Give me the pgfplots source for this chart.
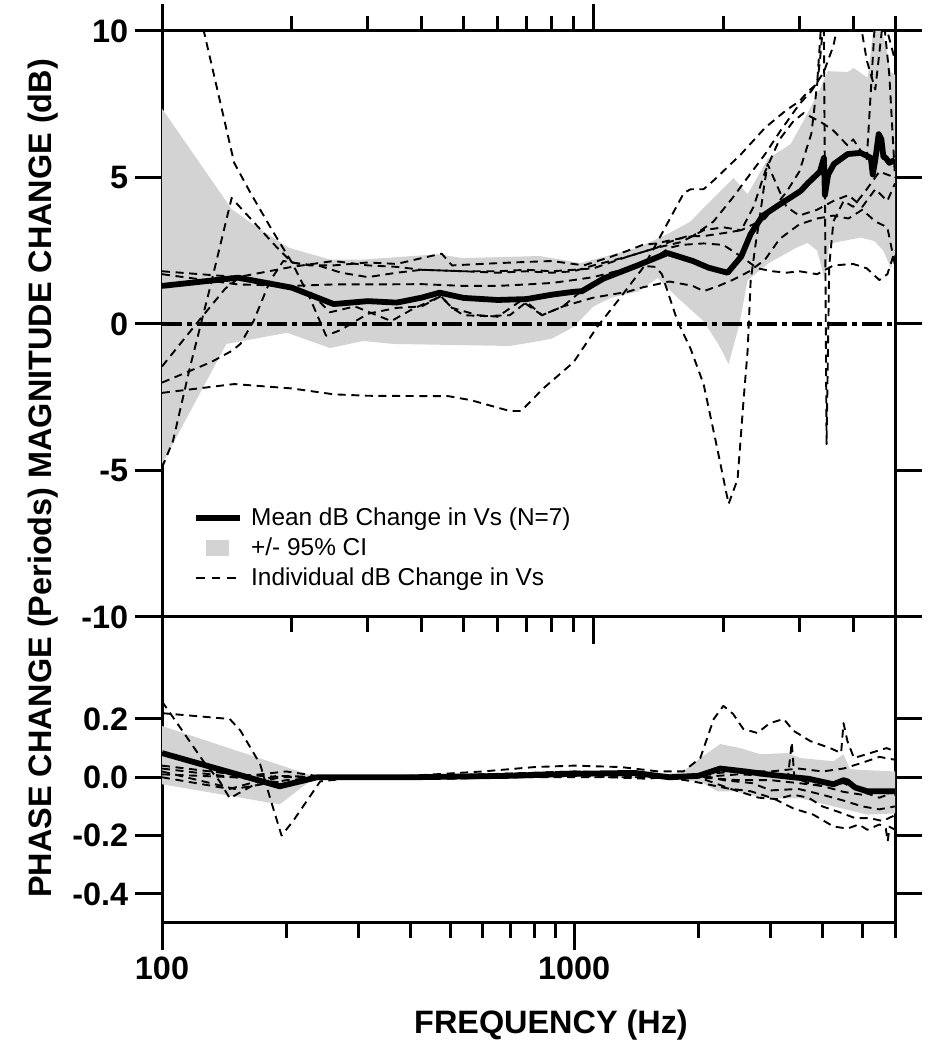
\documentclass[border=0pt]{standalone}
\usepackage{fontspec}
\setmainfont{Liberation Sans}
\usepackage{pgfplots}
\pgfplotsset{compat=1.18}
\definecolor{cigray}{RGB}{211,211,211}
\newcommand\bigbf{\fontsize{16.2}{19}\selectfont\bfseries}
\newcommand\legfont{\fontsize{12.2}{14}\selectfont}
\pgfplotsset{
  panel/.style={
    scale only axis, width=366.5pt, enlargelimits=false,
    axis line style={line width=1.5pt},
    tick style={line width=1.5pt, black},
    tick align=outside,
    major tick length=13.5pt, minor tick length=7.5pt,
    tick label style={font=\bigbf},
    ytick pos=both, yticklabel pos=left,
    xtick={100,1000},
    minor xtick={200,300,400,500,600,700,800,900,2000,3000,4000,5000,6000},
  },
  indiv/.style={black, line width=0.95pt, dash pattern=on 4pt off 2.8pt, line join=round, forget plot},
  meanl/.style={black, line width=2.9pt, line join=round, forget plot},
}
\begin{document}
\begin{tikzpicture}
\useasboundingbox (0,0) rectangle (469.5pt,525pt);
% ---------------- lower panel: phase ----------------
\begin{axis}[xmode=log, panel, at={(81pt,63.5pt)}, anchor=south west, height=153pt,
  xmin=100, xmax=6000, ymin=-0.5, ymax=0.55,
  xtick pos=left, xticklabel pos=left, xticklabels={100,1000},
  ytick={-0.4,-0.2,0,0.2}, yticklabels={-0.4,-0.2,0.0,0.2},
  xlabel={FREQUENCY (Hz)},
  xlabel style={font=\bigbf, at={(axis description cs:0.5307,-0.3595)}, anchor=base},
]
\addplot[fill=cigray, draw=none, forget plot] coordinates {
 (100,0.176)(233,0.004)(400,0.008)(1000,0.02)(1500,0.015)(1700,0.012)(1839,0.02)(2022,0.066)(2261,0.114)(2529,0.1)(2829,0.079)(3289,0.083)(3537,0.066)(4255,0.055)(4497,0.079)(4670,0.028)(5000,0.025)(6000,0.02)
 (6000,-0.124)(5140,-0.128)(4255,-0.1)(3537,-0.072)(2940,-0.072)(2430,-0.048)(2223,-0.048)(2022,-0.014)(1700,-0.005)(1000,0.002)(400,-0.004)(233,-0.004)(193,-0.093)(100,-0.024)
} -- cycle;
\addplot[indiv] coordinates {(100,0.26)(112,0.16)(126,0.055)(138,-0.014)(146,-0.072)(173,-0.014)(200,0.003)(250,0.0)(400,0.005)(600,0.02)(800,0.035)(1000,0.04)(1300,0.035)(1600,0.02)(1839,0.02)(2022,0.066)(2180,0.2)(2300,0.245)(2430,0.217)(2570,0.166)(2780,0.152)(2985,0.186)(3223,0.2)(3400,0.16)(3740,0.124)(4180,0.1)(4440,0.083)(4500,0.186)(4600,0.124)(4770,0.066)(5140,0.08)(5720,0.1)(6000,0.09)};
\addplot[indiv] coordinates {(100,0.22)(146,0.2)(155,0.16)(173,0.045)(183,-0.072)(195,-0.2)(208,-0.15)(242,-0.014)(300,0.0)(600,0.01)(1000,0.02)(1500,0.01)(1940,-0.014)(2350,-0.038)(2680,-0.048)(3035,-0.072)(3400,-0.107)(3800,-0.128)(4255,-0.169)(4600,-0.176)(4900,-0.162)(5140,-0.18)(5500,-0.162)(5700,-0.176)(5760,-0.22)(5820,-0.17)(6000,-0.18)};
\addplot[indiv] coordinates {(100,0.04)(150,0.01)(200,0.0)(250,0.0)(500,0.005)(1000,0.01)(1500,0.0)(2000,0.0)(2400,-0.04)(2800,-0.07)(3100,-0.075)(3400,-0.06)(3700,-0.07)(4000,-0.1)(4400,-0.12)(4800,-0.14)(5200,-0.14)(5600,-0.15)(6000,-0.13)};
\addplot[indiv] coordinates {(100,0.02)(150,-0.04)(200,-0.01)(250,0.0)(500,0.0)(1000,0.015)(1500,0.005)(2000,0.0)(2500,0.01)(3000,0.005)(3300,0.0)(3370,0.12)(3420,0.0)(3700,-0.02)(4000,-0.03)(4500,-0.05)(5000,-0.06)(5500,-0.05)(6000,-0.06)};
\addplot[indiv] coordinates {(100,0.0)(146,-0.04)(190,0.005)(250,0.0)(500,0.0)(1000,0.0)(1500,0.0)(2000,0.01)(2500,0.02)(3000,0.02)(3500,0.03)(4000,0.02)(4500,0.03)(5000,0.05)(5500,0.07)(6000,0.06)};
\addplot[indiv] coordinates {(100,0.03)(150,0.0)(200,0.02)(250,0.0)(500,0.005)(1000,0.02)(1500,0.01)(2000,0.0)(2500,-0.01)(3000,-0.01)(3500,-0.02)(4000,-0.03)(4500,-0.02)(5000,-0.05)(5500,-0.07)(6000,-0.05)};
\addplot[indiv] coordinates {(100,0.01)(150,0.0)(200,-0.02)(250,0.0)(500,-0.005)(1000,0.005)(1500,-0.005)(2000,0.01)(2300,-0.01)(2700,-0.02)(3000,-0.045)(3500,-0.04)(4000,-0.06)(4500,-0.08)(5000,-0.1)(5500,-0.11)(6000,-0.1)};
\addplot[meanl] coordinates {(100,0.083)(193,-0.031)(238,0.0)(400,0.0)(700,0.005)(1000,0.012)(1400,0.015)(1700,0.0)(2000,0.005)(2261,0.03)(2600,0.02)(2940,0.01)(3400,0.0)(3700,-0.005)(4255,-0.024)(4500,-0.01)(4600,-0.014)(4800,-0.035)(5140,-0.048)(6000,-0.048)};
\end{axis}
% ---------------- upper panel: magnitude ----------------
\begin{axis}[xmode=log, panel, at={(81pt,216.5pt)}, anchor=south west, height=293pt,
  xmin=100, xmax=5000, ymin=-10, ymax=10,
  xtick pos=both, xticklabels={},
  ytick={-10,-5,0,5,10}, yticklabels={-10,-5,0,5,10},
  ylabel={PHASE CHANGE (Periods) MAGNITUDE CHANGE (dB)},
  ylabel style={font=\bigbf, at={(axis description cs:-0.1623,0.2363)}, anchor=center},
  legend image code/.code={\draw[#1] (0pt,0pt) -- (22pt,0pt);},
  legend cell align=left,
  legend style={at={(axis description cs:0.0423,0.19)}, anchor=north west, draw=none, fill=none,
    font=\legfont, inner sep=0pt, row sep=2.6pt, column sep=3pt, nodes={inner sep=1pt}},
]
\addplot[fill=cigray, draw=none, forget plot] coordinates {
 (100,7.35)(145,3.92)(170,3.2)(197,2.6)(245,2.2)(293,2.2)(435,2.38)(500,2.25)(750,2.32)(933,2.08)(1265,2.6)(1485,3.07)(1680,3.5)(1800,3.96)(1898,4.3)(2112,4.98)(2277,4.43)(2533,5.63)(2864,6.14)(3070,6.93)(3362,8.06)(3491,8.63)(3885,8.6)(4012,8.74)(4322,8.4)(4450,10)(4650,10)(4750,9.6)(4888,8.6)(5000,8.5)
 (5000,2.4)(4890,1.9)(4700,2.5)(4480,2.83)(4164,2.95)(3600,2.77)(3520,2.7)(3440,1.5)(3300,2.5)(3137,2.77)(2950,2.6)(2550,2.08)(2277,1.5)(2180,0.0)(2057,-1.37)(1950,-0.7)(1800,0.1)(1566,0.9)(1410,1.57)(1265,1.1)(1100,0.9)(1000,0.6)(900,-0.1)(800,-0.5)(750,-0.58)(640,-0.75)(343,-0.68)(293,-0.58)(245,-0.82)(195,-0.3)(141,-0.68)(100,-4.78)
} -- cycle;
\addplot[black, line width=2.2pt, dash pattern=on 10pt off 2.5pt on 2.5pt off 2.5pt, forget plot] coordinates {(100,0)(5000,0)};
\addplot[indiv] coordinates {(100,14)(125,10)(147,5.5)(160,4.5)(180,3.2)(200,2.1)(220,0.9)(240,-0.4)(260,-0.2)(300,0.35)(350,0.55)(400,0.6)(443,0.95)(470,0.55)(500,0.3)(560,0.27)(640,0.3)(700,0.75)(760,0.3)(850,0.6)(950,1.2)(1100,1.7)(1250,2.0)(1393,1.95)(1441,1.7)(1566,0.1)(1680,-0.85)(1800,-2.05)(1940,-4.3)(2057,-6.14)(2158,-5.3)(2228,-2.6)(2277,-0.9)(2314,1.47)(2376,2.73)(2422,3.5)(2480,4.6)(2533,5.46)(2650,4.8)(2800,4.0)(3000,3.7)(3300,3.9)(3600,4.2)(3900,4.4)(4200,4.0)(4500,4.6)(4800,4.2)(5000,4.8)};
\addplot[indiv] coordinates {(100,-2.35)(147,-2.05)(200,-2.2)(250,-2.4)(300,-2.45)(400,-2.46)(460,-2.46)(520,-2.6)(640,-2.97)(680,-2.97)(765,-2.2)(900,-1.3)(1020,-0.1)(1140,0.8)(1300,1.9)(1410,2.83)(1620,4.47)(1680,4.6)(1800,4.6)(1900,4.9)(2200,5.8)(2500,6.7)(2800,7.3)(3000,7.6)(3150,7.95)(3300,8.2)(3380,10.5)(3600,11)(4000,12)(5000,12)};
\addplot[indiv] coordinates {(100,-4.9)(106,-4.0)(116,-1.5)(129,1.2)(145,4.3)(165,3.4)(185,2.6)(200,2.1)(220,2.0)(250,2.0)(300,2.1)(350,2.05)(400,2.25)(445,2.4)(470,2.0)(550,2.05)(650,2.1)(800,2.15)(950,2.0)(1100,2.3)(1200,2.5)(1300,2.7)(1400,2.75)(1500,2.85)(1700,3.0)(1898,3.5)(2100,4.3)(2277,5.0)(2500,5.8)(2715,6.6)(3000,7.5)(3200,7.95)(3420,8.6)(3600,9.5)(3750,10.8)(4100,10.8)(4300,9.0)(4500,8.0)(4700,10.5)(5000,9.0)};
\addplot[indiv] coordinates {(100,1.8)(150,1.6)(200,1.95)(250,2.15)(300,2.0)(350,1.95)(400,1.85)(500,1.8)(600,1.8)(700,1.85)(800,1.8)(900,1.85)(1000,1.9)(1200,2.3)(1400,2.6)(1600,2.8)(1800,3.2)(2000,3.3)(2200,3.2)(2500,3.6)(2800,4.5)(3000,5.2)(3200,6.5)(3350,9.0)(3420,10.5)(3470,-4.1)(3520,2.0)(3600,3.5)(3800,4.2)(4000,4.0)(4300,4.6)(4600,5.2)(5000,5.0)};
\addplot[indiv] coordinates {(100,1.7)(150,1.35)(200,1.3)(250,1.35)(300,1.35)(400,1.36)(500,1.3)(600,1.3)(700,1.35)(800,1.4)(900,1.5)(1000,1.6)(1200,1.9)(1400,2.3)(1500,2.6)(1600,2.7)(1800,2.75)(2000,2.7)(2200,2.3)(2400,1.9)(2600,1.8)(2800,1.75)(3000,1.8)(3300,1.7)(3600,2.0)(4000,2.05)(4300,1.9)(4600,1.5)(4800,1.7)(5000,2.5)};
\addplot[indiv] coordinates {(100,-1.45)(120,0.0)(140,1.2)(150,1.55)(180,1.4)(200,1.2)(220,1.1)(245,0.4)(280,0.6)(340,0.1)(380,0.5)(443,0.95)(470,0.55)(540,0.3)(600,0.25)(680,0.8)(760,0.3)(850,0.6)(1000,0.9)(1200,1.1)(1300,1.25)(1500,1.45)(1700,1.3)(1800,1.12)(1950,1.3)(2100,1.5)(2300,1.8)(2500,2.2)(2700,2.9)(3000,3.4)(3300,3.6)(3600,3.7)(3900,3.6)(4200,3.9)(4500,3.5)(4800,3.3)(5000,2.0)};
\addplot[indiv] coordinates {(100,-2.0)(130,-1.3)(145,-0.92)(152,-0.68)(163,0.1)(178,1.47)(191,2.15)(210,2.05)(230,2.0)(260,1.75)(300,1.6)(350,1.75)(400,1.85)(500,1.8)(600,1.75)(700,1.8)(800,1.75)(900,1.8)(1000,2.0)(1200,2.3)(1400,2.6)(1500,2.8)(1650,3.0)(1800,3.0)(2000,3.1)(2200,3.2)(2350,4.0)(2500,5.2)(2700,6.3)(2900,6.9)(3070,7.2)(3360,6.9)(3600,6.6)(3880,6.1)(4000,6.3)(4300,5.6)(4500,10.5)(4700,10.5)(4850,8.5)(5000,5.0)};
\addplot[meanl] coordinates {(100,1.30)(150,1.58)(200,1.24)(250,0.68)(300,0.78)(350,0.73)(400,0.90)(440,1.07)(500,0.89)(600,0.82)(700,0.85)(800,1.00)(900,1.10)(940,1.12)(1055,1.55)(1265,2.0)(1485,2.42)(1700,2.15)(1850,1.92)(2046,1.75)(2200,2.3)(2314,3.07)(2466,3.69)(2715,4.10)(3022,4.54)(3137,4.80)(3350,5.20)(3421,5.67)(3440,4.40)(3500,5.1)(3609,5.46)(3884,5.80)(4164,5.84)(4395,5.67)(4440,5.10)(4500,5.6)(4583,6.48)(4650,6.3)(4700,5.7)(4758,5.67)(4850,5.5)(5000,5.6)};
\addlegendimage{black, line width=2.9pt}
\addlegendentry{Mean dB Change in Vs (N=7)}
\addlegendimage{legend image code/.code={\fill[cigray] (5pt,-3.75pt) rectangle (16pt,3.75pt);}}
\addlegendentry{+/- 95\% CI}
\addlegendimage{black, line width=0.95pt, dash pattern=on 4.25pt off 3.5pt}
\addlegendentry{Individual dB Change in Vs}
\end{axis}
\end{tikzpicture}
\end{document}
